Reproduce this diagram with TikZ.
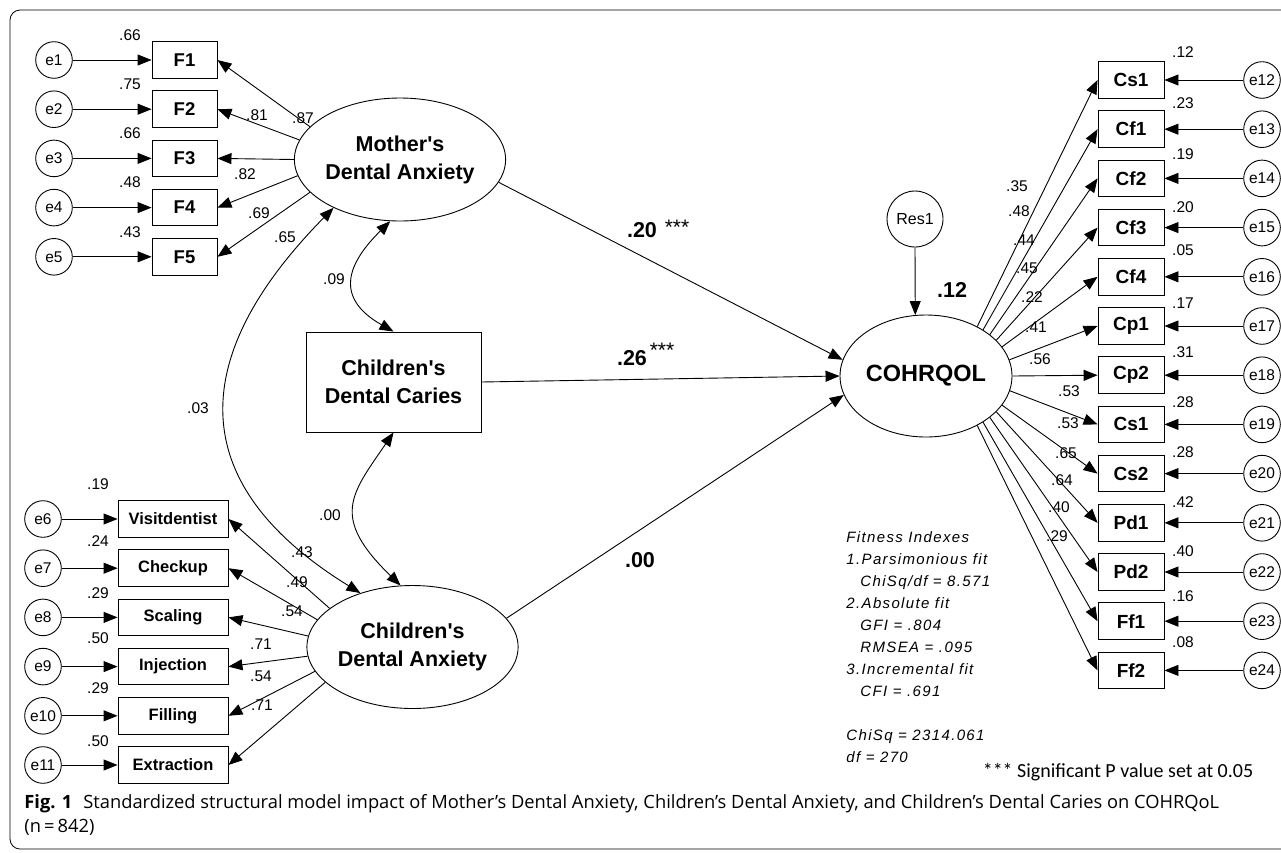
\documentclass[tikz,border=0pt]{standalone}
\usepackage{fontspec}
\setmainfont{Liberation Sans}
\newfontfamily\fitfont[LetterSpace=9]{Liberation Sans}
\newfontfamily\notefont{Carlito}
\newfontfamily\capfont{Open Sans}
\usetikzlibrary{arrows.meta,shapes.geometric}
\begin{document}
\begin{tikzpicture}[x=1pt,y=-1pt,line width=0.9pt,
  >={Triangle[length=14pt,width=11pt]},
  err/.style={draw,circle,minimum size=36.6pt,inner sep=0pt,font=\fontsize{15.5}{18}\selectfont},
  obs/.style={draw,rectangle,minimum width=65pt,minimum height=36.6pt,inner sep=0pt,font=\fontsize{18.5}{22}\selectfont\bfseries},
  obsb/.style={obs,minimum width=110pt,font=\fontsize{16.5}{20}\selectfont\bfseries},
  obsr/.style={obs,minimum width=66pt,font=\fontsize{19}{22}\selectfont\bfseries},
  lat/.style={draw,ellipse,minimum width=174pt,minimum height=123pt,inner sep=0pt,align=center,font=\fontsize{21.5}{28}\selectfont\bfseries},
  lbl/.style={inner sep=0pt,font=\fontsize{15.5}{18}\selectfont},
  blbl/.style={inner sep=0pt,font=\fontsize{21.5}{26}\selectfont\bfseries},
  star/.style={inner sep=0pt,font=\fontsize{21}{24}\selectfont},
  fit/.style={anchor=base west,inner sep=0pt,font=\fitfont\itshape\fontsize{15}{18}\selectfont},
]
\useasboundingbox (0,0) rectangle (1281,852);
\clip (0,0) rectangle (1281,852);
\draw[line width=0.8pt,rounded corners=10pt] (10,10) rectangle (1320,849);

% latent variables
\node[lat] (MDA) at (400,159.5) {Mother\textquotesingle s\\Dental Anxiety};
\node[lat] (CDA) at (412.5,647) {Children\textquotesingle s\\Dental Anxiety};
\node[lat,minimum width=172pt,minimum height=122pt,font=\fontsize{23.5}{28}\selectfont\bfseries] (COH) at (926,376) {COHRQOL};
\node[draw,rectangle,minimum width=175pt,minimum height=100pt,inner sep=0pt,align=center,font=\fontsize{21.5}{27.7}\selectfont\bfseries] (CDC) at (393.5,382) {Children\textquotesingle s\\Dental Caries};
\node[draw,circle,minimum size=56pt,inner sep=0pt,font=\fontsize{16}{18}\selectfont] (Res) at (915,219) {Res1};

% mother indicators
\foreach \i/\y/\v in {1/60/.66,2/109.2/.75,3/158.4/.66,4/207.6/.48,5/256.8/.43}{
  \node[err] (e\i) at (54,\y) {e\i};
  \node[obs] (F\i) at (184.5,\y) {F\i};
  \node[lbl] (vF\i) at (130,\y-25) {\v};
  \draw[->] (e\i) -- (F\i);
}
% children anxiety indicators
\foreach \i/\n/\t/\y/\vy/\v in {6/1/Visitdentist/519/484/.19,7/2/Checkup/568.2/541/.24,8/3/Scaling/617.4/593/.29,9/4/Injection/666.6/638/.50,10/5/Filling/715.8/688/.29,11/6/Extraction/765/741/.50}{
  \node[err] (e\i) at (43,\y) {e\i};
  \node[obsb] (B\n) at (173,\y) {\t};
  \node[lbl] (vB\n) at (98,\vy) {\v};
  \draw[->] (e\i) -- (B\n);
}
% COHRQOL indicators
\foreach \i/\n/\t/\y/\vy/\v in {12/1/Cs1/80/52/.12,13/2/Cf1/129.2/103/.23,14/3/Cf2/178.4/154/.19,15/4/Cf3/227.6/207/.20,16/5/Cf4/276.8/250/.05,17/6/Cp1/326/303/.17,18/7/Cp2/375.2/352/.31,19/8/Cs1/424.4/402/.28,20/9/Cs2/473.6/452/.28,21/10/Pd1/522.8/502/.42,22/11/Pd2/572/551/.40,23/12/Ff1/621.2/596/.16,24/13/Ff2/670.4/642/.08}{
  \node[err] (e\i) at (1262,\y) {e\i};
  \node[obsr] (R\n) at (1131,\y) {\t};
  \node[lbl] (vR\n) at (1183,\vy) {\v};
  \draw[->] (e\i) -- (R\n);
}

% loadings of Mother's Dental Anxiety
\foreach \a/\n in {160/1,169/2,180/3,189.5/4,200/5}{
  \draw[->] (MDA.\a) -- (F\n.east);
}
\node[lbl] (l1) at (303,118) {.87};
\node[lbl] (l2) at (257,115) {.81};
\node[lbl] (l3) at (245,174) {.82};
\node[lbl] (l4) at (259,213) {.69};
\node[lbl] (l5) at (285,237) {.65};

% loadings of Children's Dental Anxiety
\foreach \a/\n in {155.6/1,164/2,174/3,185/4,194/5,202/6}{
  \draw[->] (CDA.\a) -- (B\n.east);
}
\node[lbl] (m1) at (302,552) {.43};
\node[lbl] (m2) at (297,582) {.49};
\node[lbl] (m3) at (292,611) {.54};
\node[lbl] (m4) at (261,644) {.71};
\node[lbl] (m5) at (261,676) {.54};
\node[lbl] (m6) at (262,705) {.71};

% loadings of COHRQOL
\foreach \a/\n in {44/1,39/2,33/3,27.5/4,21.7/5,11/6,0/7,-10.5/8,-21/9,-27.5/10,-33/11,-39/12,-44/13}{
  \draw[->] (COH.\a) -- (R\n.west);
}
\node[lbl] (k1) at (1017,186) {.35};
\node[lbl] (k2) at (1019,211) {.48};
\node[lbl] (k3) at (1024,240) {.44};
\node[lbl] (k4) at (1027,268) {.45};
\node[lbl] (k5) at (1032,297) {.22};
\node[lbl] (k6) at (1036,327) {.41};
\node[lbl] (k7) at (1040,359) {.56};
\node[lbl] (k8) at (1069,391) {.53};
\node[lbl] (k9) at (1068,423) {.53};
\node[lbl] (k10) at (1066,453) {.65};
\node[lbl] (k11) at (1062,480) {.64};
\node[lbl] (k12) at (1059,507) {.40};
\node[lbl] (k13) at (1057,536) {.29};

% structural paths
\draw[->] (MDA.-13) -- (COH.169);
\draw[->] (CDC.east) -- (COH.west);
\draw[->] (CDA.17) -- (COH.193);
\draw[->] (Res.south) -- (COH.100);
\node[blbl] (p1) at (642,230) {.20};
\node[star] (s1) at (677,227) {***};
\node[blbl] (p2) at (632,358) {.26};
\node[star] (s2) at (662,350) {***};
\node[blbl] (p3) at (640,560) {.00};
\node[blbl] (r2) at (952,290) {.12};

% covariances
\draw[<->] (MDA.261) .. controls (352,259) and (330,295.5) .. (CDC.north);
\draw[<->] (CDC.south) .. controls (351,494.5) and (330,517) .. (CDA.101);
\draw[<->] (MDA.216) .. controls (224,319) and (148,462) .. (CDA.134);
\node[lbl] (c1) at (334,279) {.09};
\node[lbl] (c2) at (330,515) {.00};
\node[lbl] (c3) at (198,408) {.03};

% fit indexes
\node[fit] (f1) at (846,542) {Fitness Indexes};
\node[fit] (f2) at (846,564) {1.Parsimonious fit};
\node[fit] (f3) at (860,586) {ChiSq/df = 8.571};
\node[fit] (f4) at (846,608) {2.Absolute fit};
\node[fit] (f5) at (860,630) {GFI = .804};
\node[fit] (f6) at (860,652) {RMSEA = .095};
\node[fit] (f7) at (846,674) {3.Incremental fit};
\node[fit] (f8) at (860,696) {CFI = .691};
\node[fit] (f9) at (846,740) {ChiSq = 2314.061};
\node[fit] (f10) at (846,762) {df = 270};

\node[inner sep=0pt,font=\notefont\fontsize{20}{22}\selectfont] (note) at (1118,772) {*** Significant P value set at 0.05};

% caption
\node[anchor=base west,inner sep=0pt,font=\capfont\fontsize{18.3}{21}\selectfont] (cap1) at (24,808) {\textbf{Fig. 1}\hspace{0.6em}Standardized structural model impact of Mother’s Dental Anxiety, Children’s Dental Anxiety, and Children’s Dental Caries on COHRQoL};
\node[anchor=base west,inner sep=0pt,font=\capfont\fontsize{18.3}{21}\selectfont] (cap2) at (24,832) {(n\,=\,842)};
\end{tikzpicture}
\end{document}
